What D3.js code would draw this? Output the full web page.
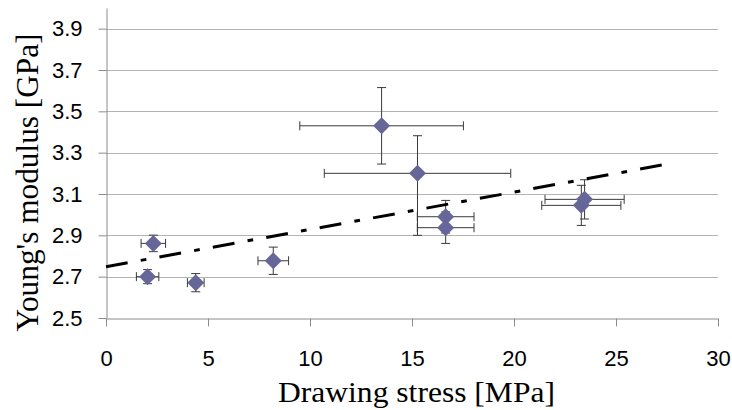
<!DOCTYPE html>
<html>
<head>
<meta charset="utf-8">
<script src="https://cdn.jsdelivr.net/npm/d3@7"></script>
<style>
  body { margin: 0; background: #fff; }
  svg { display: block; }
</style>
</head>
<body>
<script>
// values
var stress    = [2.04, 2.32, 4.40, 8.20, 13.51, 15.27, 16.65, 16.65, 23.30, 23.46];
var modulus   = [2.700, 2.861, 2.671, 2.777, 3.430, 3.200, 2.990, 2.937, 3.045, 3.074];
var stressErr = [0.55, 0.60, 0.41, 0.75, 4.01, 4.57, 1.39, 1.39, 1.94, 1.94];
var modErrUp  = [0.034, 0.040, 0.044, 0.066, 0.185, 0.182, 0.079, 0.076, 0.097, 0.095];
var modErrDn  = [0.034, 0.040, 0.044, 0.066, 0.185, 0.300, 0.079, 0.076, 0.097, 0.095];

// linear trend line end points
var trendX = [0, 27.24];
var trendY = [2.748, 3.240];

var xTicks = [0, 5, 10, 15, 20, 25, 30];
var yTicks = [2.5, 2.7, 2.9, 3.1, 3.3, 3.5, 3.7, 3.9];

var width = 732, height = 410;
var margin = {top: 8, right: 14, bottom: 92, left: 106};

var data = stress.map(function(s, i) {
  return {x: s, y: modulus[i], ex: stressErr[i], up: modErrUp[i], dn: modErrDn[i]};
});

var svg = d3.select("body").append("svg")
  .attr("width", width)
  .attr("height", height);

var x = d3.scaleLinear()
  .domain([0, 30])
  .range([margin.left, width - margin.right]);

var y = d3.scaleLinear()
  .domain([2.5, 4.0])
  .range([height - margin.bottom, margin.top]);

// gridlines
svg.append("g")
  .selectAll("line")
  .data(yTicks.slice(1))
  .enter()
  .append("line")
  .attr("x1", x(0)).attr("x2", x(30))
  .attr("y1", d => Math.round(y(d)) + 0.5)
  .attr("y2", d => Math.round(y(d)) + 0.5)
  .style("stroke", "#b4b4b4")
  .style("stroke-width", 1);

// axes
var xAxis = svg.append("g")
  .attr("transform", "translate(0," + (Math.round(y(2.5)) + 0.5) + ")")
  .call(d3.axisBottom(x).tickValues(xTicks).tickSize(8).tickSizeOuter(0).tickPadding(24));

var yAxis = svg.append("g")
  .attr("transform", "translate(" + (Math.round(x(0)) + 0.5) + ",0)")
  .call(d3.axisLeft(y).tickValues(yTicks).tickFormat(d3.format(".1f")).tickSize(8).tickSizeOuter(0).tickPadding(16));

[xAxis, yAxis].forEach(function(a) {
  a.select(".domain").style("stroke", "#8c8c8c");
  a.selectAll(".tick line").style("stroke", "#8c8c8c");
  a.selectAll(".tick text")
    .style("font-family", "'Liberation Sans', Arial, sans-serif")
    .style("font-size", "22px")
    .style("fill", "#000");
});
xAxis.selectAll(".tick text").attr("dy", "0.71em");
yAxis.selectAll(".tick text").attr("dy", "0.32em");

// error bars
var cap = 4.5;
var bars = svg.append("g")
  .style("stroke", "#3a3a3a")
  .style("stroke-width", 1)
  .style("fill", "none");

var errGroups = bars.selectAll("g")
  .data(data)
  .enter()
  .append("g");

errGroups.append("path")
  .attr("d", function(d) {
    var cy = y(d.y);
    var x0 = x(d.x - d.ex), x1 = x(d.x + d.ex);
    return "M" + x0 + "," + cy + "H" + x1 +
      "M" + x0 + "," + (cy - cap) + "V" + (cy + cap) +
      "M" + x1 + "," + (cy - cap) + "V" + (cy + cap);
  });

errGroups.append("path")
  .attr("d", function(d) {
    var cx = x(d.x);
    var y0 = y(d.y + d.up), y1 = y(d.y - d.dn);
    return "M" + cx + "," + y0 + "V" + y1 +
      "M" + (cx - cap) + "," + y0 + "H" + (cx + cap) +
      "M" + (cx - cap) + "," + y1 + "H" + (cx + cap);
  });

// diamonds
var r = 8.5;
svg.append("g")
  .selectAll("path")
  .data(data)
  .enter()
  .append("path")
  .attr("d", function(d) {
    var cx = x(d.x), cy = y(d.y);
    return "M" + cx + "," + (cy - r) + "L" + (cx + r) + "," + cy +
      "L" + cx + "," + (cy + r) + "L" + (cx - r) + "," + cy + "Z";
  })
  .style("fill", "#666699");

// trend line
svg.append("line")
  .attr("x1", x(trendX[0])).attr("y1", y(trendY[0]))
  .attr("x2", x(trendX[1])).attr("y2", y(trendY[1]))
  .style("stroke", "#000")
  .style("stroke-width", 3)
  .style("stroke-dasharray", "22,13.3,5.7,13.3");

// axis titles
svg.append("text")
  .attr("x", 416.5)
  .attr("y", 402)
  .attr("text-anchor", "middle")
  .attr("textLength", 277)
  .attr("lengthAdjust", "spacingAndGlyphs")
  .style("font-family", "'Liberation Serif', 'Times New Roman', serif")
  .style("font-size", "30px")
  .text("Drawing stress [MPa]");

svg.append("text")
  .attr("transform", "translate(38,182.5) rotate(-90)")
  .attr("text-anchor", "middle")
  .attr("textLength", 298)
  .attr("lengthAdjust", "spacingAndGlyphs")
  .style("font-family", "'Liberation Serif', 'Times New Roman', serif")
  .style("font-size", "32px")
  .text("Young's modulus [GPa]");
</script>
</body>
</html>
